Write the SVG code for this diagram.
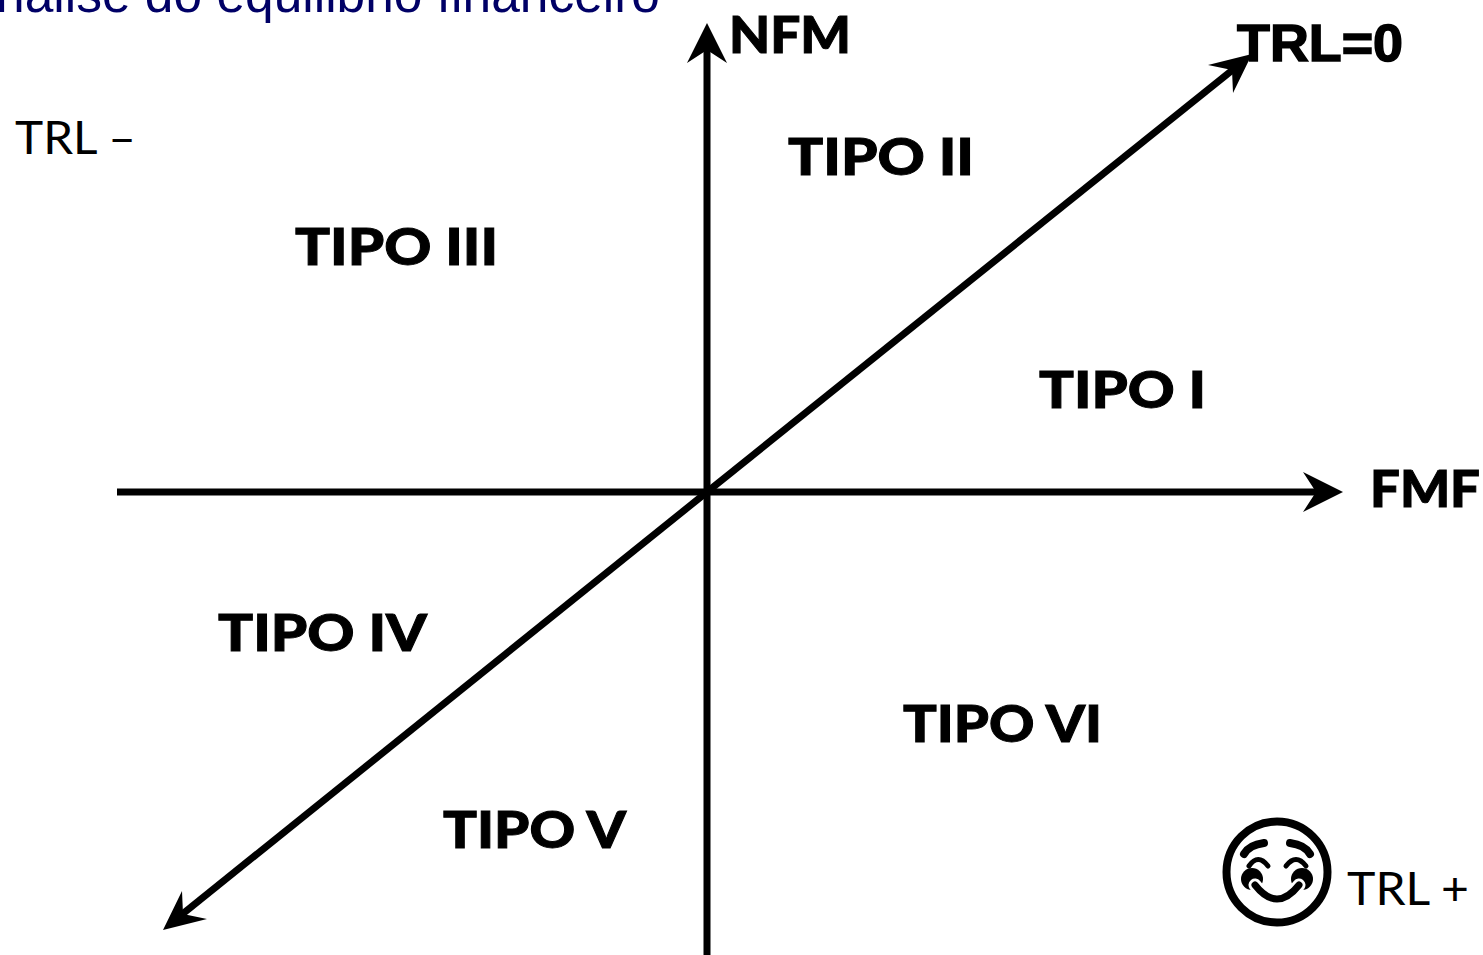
<svg xmlns="http://www.w3.org/2000/svg" width="1483" height="955" viewBox="0 0 1483 955">
<style>
.b{font-family:"Lato","Open Sans",sans-serif;font-weight:900;fill:#000;stroke:#000;stroke-width:1;font-size:52px}
.t{font-family:"Liberation Sans",Arial,sans-serif;font-weight:700;fill:#000;stroke:#000;stroke-width:1.5;font-size:52px}
.r{font-family:"Lato","Open Sans",sans-serif;font-weight:400;fill:#000;font-size:46px}
.ax{stroke:#000;stroke-width:7;fill:none}
.fc{fill:#000}
.s{fill:none;stroke:#000;stroke-linecap:round}
</style>
<rect width="1483" height="955" fill="#fff"/>
<text id="title" x="-4" y="12" font-family="Liberation Sans, Arial, sans-serif" font-size="51" textLength="664" lengthAdjust="spacingAndGlyphs" fill="#000066">nalise do equilibrio financeiro</text>
<g id="connectors">
<path class="ax" d="M707 955V45"/>
<path class="fc" d="M707 23L727 63L707 50L687 63Z"/>
<path class="ax" d="M117 492H1320"/>
<path class="fc" d="M1343 492L1303 472L1316 492L1303 512Z"/>
<path class="ax" d="M707 492L1235 68"/>
<path class="fc" d="M1252 54L1208 65L1232 70L1233 93Z"/>
<path class="ax" d="M707 492L180 916"/>
<path class="fc" d="M163 930L207 919L183 914L182 891Z"/>
</g>
<g id="nfm"><text class="b" x="729" y="53" textLength="122" lengthAdjust="spacingAndGlyphs">NFM</text></g>
<g id="trl0"><text class="t" x="1237" y="61" textLength="166" lengthAdjust="spacingAndGlyphs">TRL=0</text></g>
<g id="fmf"><text class="b" x="1370" y="507" textLength="110" lengthAdjust="spacingAndGlyphs">FMF</text></g>
<g id="tipo2"><text class="b" x="788" y="175" textLength="186" lengthAdjust="spacingAndGlyphs">TIPO II</text></g>
<g id="tipo3"><text class="b" x="295" y="265" textLength="203" lengthAdjust="spacingAndGlyphs">TIPO III</text></g>
<g id="tipo1"><text class="b" x="1039" y="408" textLength="167" lengthAdjust="spacingAndGlyphs">TIPO I</text></g>
<g id="tipo4"><text class="b" x="218" y="651" textLength="209" lengthAdjust="spacingAndGlyphs">TIPO IV</text></g>
<g id="tipo6"><text class="b" x="903" y="742" textLength="199" lengthAdjust="spacingAndGlyphs">TIPO VI</text></g>
<g id="tipo5"><text class="b" x="443" y="848" textLength="183" lengthAdjust="spacingAndGlyphs">TIPO V</text></g>
<g id="trlminus"><text class="r" x="15" y="154" textLength="121" lengthAdjust="spacingAndGlyphs">TRL –</text></g>
<g id="trlplus"><text class="r" x="1347" y="905" textLength="122" lengthAdjust="spacingAndGlyphs">TRL +</text></g>
<g id="smiley">
<circle cx="1277" cy="872" r="50.5" fill="none" stroke="#000" stroke-width="8"/>
<path class="s" stroke-width="8" d="M1244 854Q1249 845 1264 843"/>
<path class="s" stroke-width="8" d="M1290 843Q1305 845 1310 854"/>
<path class="s" stroke-width="5" d="M1249 866Q1258 853 1268 866"/>
<path class="s" stroke-width="5" d="M1286 866Q1296 853 1306 866"/>
<circle class="fc" cx="1252" cy="879" r="11"/>
<circle class="fc" cx="1302" cy="879" r="11"/>
<path class="s" style="stroke:#fff" stroke-width="13" d="M1255 885Q1277 913 1299 885"/>
<path class="s" stroke-width="7" d="M1255 885Q1277 913 1299 885"/>
</g>
</svg>
